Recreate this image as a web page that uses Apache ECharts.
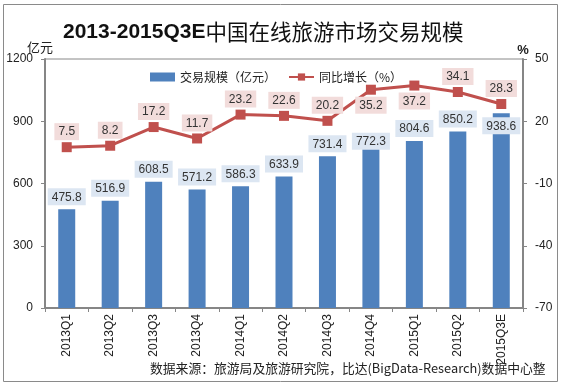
<!DOCTYPE html>
<html><head><meta charset="utf-8">
<script src="https://cdn.jsdelivr.net/npm/echarts@6/dist/echarts.min.js"></script>
<style>html,body{margin:0;padding:0;background:#fff}#c{width:561px;height:386px}</style>
</head><body><div id="c"></div>
<script>
const categories = ['2013Q1','2013Q2','2013Q3','2013Q4','2014Q1','2014Q2','2014Q3','2014Q4','2015Q1','2015Q2','2015Q3E'];
const scaleValues = [475.8,516.9,608.5,571.2,586.3,633.9,731.4,772.3,804.6,850.2,938.6];
const growthValues = [7.5,8.2,17.2,11.7,23.2,22.6,20.2,35.2,37.2,34.1,28.3];
const leftTicks = [0,300,600,900,1200];
const rightTicks = [-70,-40,-10,20,50];
const growthBelow = ['2014Q4','2015Q1'];

const FONT = 'Liberation Sans, Noto Sans CJK SC, sans-serif';
const chart = echarts.init(document.getElementById('c'), null, {renderer:'canvas'});

const barData = scaleValues.map((v,i)=>{
  const d = {value:v};
  if (categories[i]==='2015Q3E') d.label = {position:'insideTop', distance:4};
  if (categories[i]==='2014Q4') d.label = {distance:-2};
  return d;
});
const lineData = growthValues.map((v,i)=>{
  const d = {value:v};
  if (growthBelow.includes(categories[i])) d.label = {position:'bottom', distance:2};
  return d;
});

chart.setOption({
  animation:false,
  title:{
    text:'{a|2013-2015Q3E}{b|中国在线旅游市场交易规模}',
    left:58, top:16,
    textStyle:{rich:{
      a:{fontFamily:FONT, fontWeight:'bold', fontSize:21, color:'#111'},
      b:{fontFamily:'Noto Sans CJK SC', fontWeight:'normal', fontSize:21.5, color:'#111'}
    }}
  },
  legend:{
    left:145, top:66, itemGap:12, itemWidth:25, itemHeight:9,
    textStyle:{fontFamily:'Noto Sans CJK SC', fontSize:12, color:'#222'},
    data:[{name:'交易规模（亿元）', icon:'rect'},{name:'同比增长（%）'}]
  },
  grid:{left:45, right:38, top:59, bottom:78, show:true, borderColor:'#888', borderWidth:1},
  xAxis:{
    type:'category', data:categories,
    axisLine:{lineStyle:{color:'#868686', width:2}},
    axisTick:{show:true, length:4, lineStyle:{color:'#868686'}},
    axisLabel:{rotate:90, margin:6, fontFamily:FONT, fontSize:12, color:'#222'}
  },
  yAxis:[{
    type:'value', min:0, max:1200, interval:300,
    name:'亿元', nameLocation:'end', nameGap:2,
    nameTextStyle:{fontFamily:'Noto Sans CJK SC', fontSize:13, color:'#222', align:'right', padding:[0,-8,0,0]},
    axisLine:{show:true, lineStyle:{color:'#868686', width:2}},
    axisTick:{show:true, length:4, lineStyle:{color:'#868686'}, customValues:leftTicks},
    axisLabel:{margin:12, fontFamily:FONT, fontSize:12, color:'#222', customValues:leftTicks,
      formatter:v=>String(v)},
    splitLine:{show:false}
  },{
    type:'value', min:-70, max:50,
    name:'%', nameLocation:'end', nameGap:2,
    nameTextStyle:{fontFamily:FONT, fontSize:13, fontWeight:'bold', color:'#222'},
    axisLine:{show:true, lineStyle:{color:'#868686', width:2}},
    axisTick:{show:true, length:4, lineStyle:{color:'#868686'}, customValues:rightTicks},
    axisLabel:{margin:12, fontFamily:FONT, fontSize:12, color:'#222', customValues:rightTicks,
      formatter:v=>String(v)},
    splitLine:{show:false}
  }],
  series:[{
    name:'交易规模（亿元）', type:'bar', yAxisIndex:0, barWidth:17,
    itemStyle:{color:'#4F81BD'},
    label:{show:true, position:'top', distance:4, fontFamily:FONT, fontSize:12, color:'#333',
      backgroundColor:'#DCE6F2', padding:[3,4,2,4]},
    data:barData, z:2
  },{
    name:'同比增长（%）', type:'line', yAxisIndex:1,
    symbol:'rect', symbolSize:10,
    itemStyle:{color:'#C0504D'}, lineStyle:{color:'#C0504D', width:3},
    label:{show:true, position:'top', distance:2, fontFamily:FONT, fontSize:12, color:'#333',
      backgroundColor:'#F2DCDB', padding:[3,4,2,4]},
    data:lineData, z:3
  }],
  graphic:[{
    type:'rect', shape:{x:3.5, y:4.5, width:554, height:377},
    style:{fill:'none', stroke:'#8a8a8a', lineWidth:1}, silent:true, z:-1
  },{
    type:'text', left:150, top:362,
    style:{text:'数据来源：旅游局及旅游研究院，比达(BigData-Research)数据中心整',
      font:'12.8px Noto Sans CJK SC', fill:'#222'}, z:0
  }]
});
</script></body></html>
